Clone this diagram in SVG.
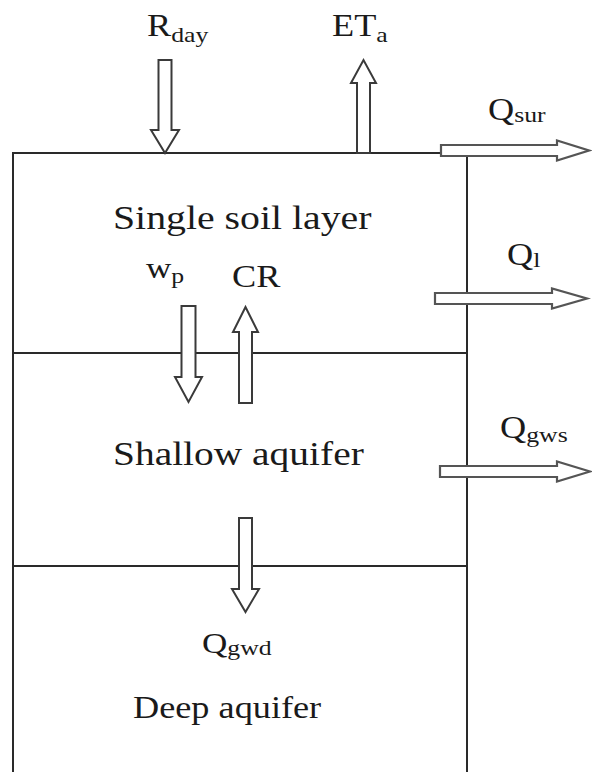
<svg xmlns="http://www.w3.org/2000/svg" width="592" height="772" viewBox="0 0 592 772">
<style>
.ln{stroke:#2a2a2a;stroke-width:2;fill:none}
.ar{fill:#fff;stroke:#3a3a3a;stroke-width:2;stroke-linejoin:miter}
.ha{fill:#fff;stroke:#555;stroke-width:2.2;stroke-linejoin:miter}
text{font-family:"Liberation Serif","Times New Roman",serif;fill:#1a1a1a}
.big{font-size:34px}
.mid{font-size:31px}
.sub{font-size:22px}
</style>
<rect width="592" height="772" fill="#fff"/>
<g id="connectors">
<path class="ln" d="M13,772 V153 H445"/>
<path class="ln" d="M467,156 V772"/>
<path class="ln" d="M13,353 H467"/>
<path class="ln" d="M13,566 H467"/>
</g>
<g id="arrow-rday"><path class="ar" d="M158.5,60 H171.5 V130 H179 L165,153 L151,130 H158.5 Z"/></g>
<g id="arrow-eta"><path class="ar" d="M357,153 H370 V83 H376 L363.5,60 L351,83 H357 Z"/></g>
<g id="arrow-wp"><path class="ar" d="M181.5,306 H195.5 V377 H202 L188.5,402 L175,377 H181.5 Z"/></g>
<g id="arrow-cr"><path class="ar" d="M239,403 H252 V332 H258 L245.5,307 L233,332 H239 Z"/></g>
<g id="arrow-qgwd"><path class="ar" d="M239,518 H252 V589 H259 L245.5,612 L232,589 H239 Z"/></g>
<g id="arrow-qsur"><path class="ha" d="M441,145 H557 V140.5 L589,150.5 L557,160.5 V156 H441 Z"/></g>
<g id="arrow-ql"><path class="ha" d="M435,293 H552 V288.5 L587,298.5 L552,308.5 V304 H435 Z"/></g>
<g id="arrow-qgws"><path class="ha" d="M440,466 H557 V461.5 L590,471.5 L557,481.5 V477 H440 Z"/></g>
<g id="label-rday"><text class="mid" transform="translate(147,36) scale(1.17,1)">R<tspan class="sub" dy="6">day</tspan></text></g>
<g id="label-eta"><text class="mid" transform="translate(332,36) scale(1.17,1)">ET<tspan class="sub" dy="6">a</tspan></text></g>
<g id="label-qsur"><text class="mid" transform="translate(488,120) scale(1.17,1)">Q<tspan class="sub" dy="2">sur</tspan></text></g>
<g id="label-ql"><text class="mid" transform="translate(507,265) scale(1.17,1)">Q<tspan class="sub" dy="2">l</tspan></text></g>
<g id="label-qgws"><text class="mid" transform="translate(500,438) scale(1.17,1)">Q<tspan class="sub" dy="4">gws</tspan></text></g>
<g id="node-soil"><text class="big" transform="translate(113,229) scale(1.17,1)">Single soil layer</text></g>
<g id="label-wp"><text style="font-size:30px" transform="translate(146,278) scale(1.17,1)">w<tspan class="sub" dy="5">p</tspan></text></g>
<g id="label-cr"><text class="mid" transform="translate(232,287) scale(1.17,1)">CR</text></g>
<g id="node-shallow"><text class="big" transform="translate(113,465) scale(1.16,1)">Shallow aquifer</text></g>
<g id="label-qgwd"><text style="font-size:30px" transform="translate(202,653) scale(1.17,1)">Q<tspan class="sub" dy="2">gwd</tspan></text></g>
<g id="node-deep"><text style="font-size:31px" transform="translate(133,718) scale(1.17,1)">Deep aquifer</text></g>
</svg>
